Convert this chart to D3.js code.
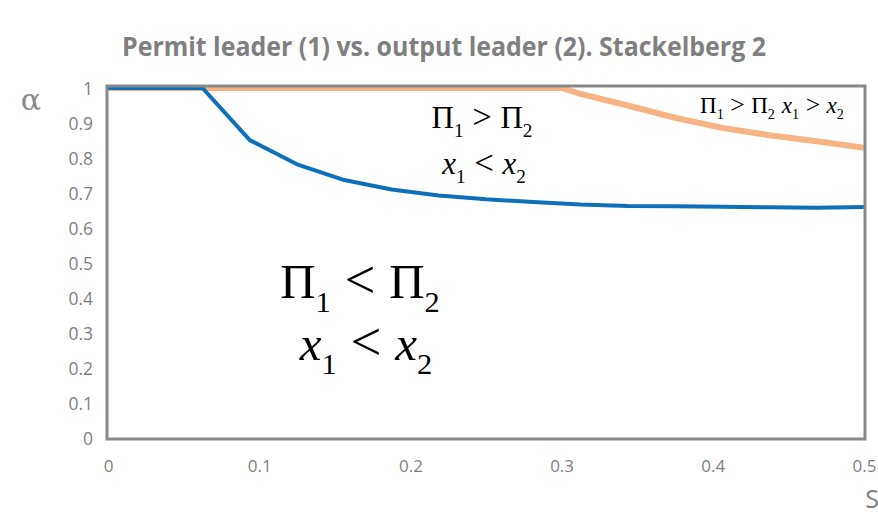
<!DOCTYPE html>
<html>
<head>
<meta charset="utf-8">
<script src="https://cdn.jsdelivr.net/npm/d3@7"></script>
<style>
  html, body { margin: 0; padding: 0; background: #fff; }
  svg { display: block; }
</style>
</head>
<body>
<svg id="chart" width="878" height="518"></svg>
<script>
// ---- data ----
const blueS     = [0, 0.03125, 0.0625, 0.09375, 0.125, 0.15625, 0.1875, 0.21875, 0.25, 0.28125, 0.3125, 0.34375, 0.375, 0.40625, 0.4375, 0.46875, 0.5];
const blueAlpha = [1, 1, 1, 0.851, 0.782, 0.737, 0.710, 0.693, 0.682, 0.674, 0.667, 0.663, 0.662, 0.661, 0.659, 0.658, 0.660];
const orangeS     = [0, 0.3, 0.3125, 0.34375, 0.375, 0.40625, 0.4375, 0.46875, 0.5];
const orangeAlpha = [1, 1, 0.983, 0.950, 0.915, 0.886, 0.865, 0.848, 0.829];
const xTicks = [0, 0.1, 0.2, 0.3, 0.4, 0.5];
const yTicks = [0, 0.1, 0.2, 0.3, 0.4, 0.5, 0.6, 0.7, 0.8, 0.9, 1];
const titleText = "Permit leader (1) vs. output leader (2). Stackelberg 2";

// ---- layout ----
const svg = d3.select("#chart");
const L = 108, R = 864, T = 88, B = 438;
const x = d3.scaleLinear().domain([0, 0.5]).range([L, R]);
const y = d3.scaleLinear().domain([0, 1]).range([B, T]);
const gray = "#7f7f7f";

// title
svg.append("text")
  .attr("x", 444).attr("y", 56)
  .attr("text-anchor", "middle")
  .attr("font-family", "'Open Sans', sans-serif")
  .attr("font-weight", "bold")
  .attr("font-size", 27)
  .attr("fill", gray)
  .attr("textLength", 644)
  .attr("lengthAdjust", "spacingAndGlyphs")
  .text(titleText);

// axes labels via d3 axes
const fmt = d => d3.format("")(+d.toFixed(1));
const yAxis = d3.axisLeft(y).tickValues(yTicks).tickSize(0).tickPadding(0).tickFormat(fmt);
const gy = svg.append("g").attr("transform", `translate(${L - 15},0)`).call(yAxis);
gy.select(".domain").remove();
gy.selectAll("text")
  .attr("font-family", "'Open Sans', sans-serif")
  .attr("font-size", 17.5)
  .attr("fill", gray)
  .attr("dy", "0.35em");

const xAxis = d3.axisBottom(x).tickValues(xTicks).tickSize(0).tickPadding(0).tickFormat(fmt);
const gx = svg.append("g").attr("transform", `translate(0,${B + 22})`).call(xAxis);
gx.select(".domain").remove();
gx.selectAll("text")
  .attr("font-family", "'Open Sans', sans-serif")
  .attr("font-size", 17)
  .attr("fill", gray)
  .attr("dy", "0.71em");

// axis titles
svg.append("text").attr("x", 872).attr("y", 508)
  .attr("text-anchor", "middle")
  .attr("font-family", "'Open Sans', sans-serif")
  .attr("font-size", 25).attr("fill", gray).text("S");
svg.append("text").attr("x", 31).attr("y", 110)
  .attr("text-anchor", "middle")
  .attr("font-family", "'DejaVu Serif', serif")
  .attr("font-size", 30).attr("fill", "#8a8a8a").text("α");

// lines
const line = d3.line().x(d => x(d[0])).y(d => y(d[1]));
const orangeData = orangeS.map((s, i) => [s, orangeAlpha[i]]);
const blueData = blueS.map((s, i) => [s, blueAlpha[i]]);

svg.append("clipPath").attr("id", "clip")
  .append("rect").attr("x", L).attr("y", T - 3).attr("width", R - L).attr("height", B - T + 6);

svg.append("path").datum(orangeData)
  .attr("d", line).attr("fill", "none")
  .attr("stroke", "#f8b384").attr("stroke-width", 6)
  .attr("stroke-linejoin", "round")
  .attr("clip-path", "url(#clip)");
svg.append("path").datum(blueData)
  .attr("d", line).attr("fill", "none")
  .attr("stroke", "#0e70b8").attr("stroke-width", 4)
  .attr("stroke-linejoin", "round")
  .attr("clip-path", "url(#clip)");

// frame
svg.append("rect")
  .attr("x", L - 1).attr("y", T - 2).attr("width", R - L + 2).attr("height", B - T + 3)
  .attr("fill", "none").attr("stroke", "#888888").attr("stroke-width", 3);

// annotations with subscripts; each part: t text, i italic, sub subscript, gap = dx before (em)
function mathText(cx, cy, size, parts) {
  const t = svg.append("text")
    .attr("x", cx).attr("y", cy)
    .attr("text-anchor", "middle")
    .attr("font-family", "'Liberation Serif', 'Times New Roman', serif")
    .attr("font-size", size).attr("fill", "#000");
  let lowered = false;
  parts.forEach(p => {
    const ts = t.append("tspan").text(p.t);
    if (p.i) ts.attr("font-style", "italic");
    let dy = 0;
    if (p.sub && !lowered) { dy = size * 0.28; lowered = true; }
    if (!p.sub && lowered) { dy = -size * 0.28; lowered = false; }
    if (dy) ts.attr("dy", dy);
    if (p.sub) ts.attr("font-size", size * 0.62);
    if (p.rel) ts.attr("font-size", size * 1.12);
    if (p.gap) ts.attr("dx", p.gap * size);
  });
  return t;
}

const g = 0.28;
const P1gtP2 = [{t: "Π"}, {t: "1", sub: true}, {t: ">", gap: g, rel: true}, {t: "Π", gap: g}, {t: "2", sub: true}];
const x1ltx2 = [{t: "x", i: true}, {t: "1", sub: true}, {t: "<", gap: g, rel: true}, {t: "x", i: true, gap: g}, {t: "2", sub: true}];
const P1ltP2 = [{t: "Π"}, {t: "1", sub: true}, {t: "<", gap: g, rel: true}, {t: "Π", gap: g}, {t: "2", sub: true}];

mathText(482, 128, 31, P1gtP2);
mathText(484, 174, 31, x1ltx2);
mathText(360, 298, 49, P1ltP2);
mathText(366, 360, 49, x1ltx2);
mathText(772, 113, 23, [
  {t: "Π"}, {t: "1", sub: true}, {t: ">", gap: g, rel: true}, {t: "Π", gap: g}, {t: "2", sub: true},
  {t: "x", i: true, gap: 0.3}, {t: "1", sub: true}, {t: ">", gap: g, rel: true},
  {t: "x", i: true, gap: g}, {t: "2", sub: true}
]);
</script>
</body>
</html>
